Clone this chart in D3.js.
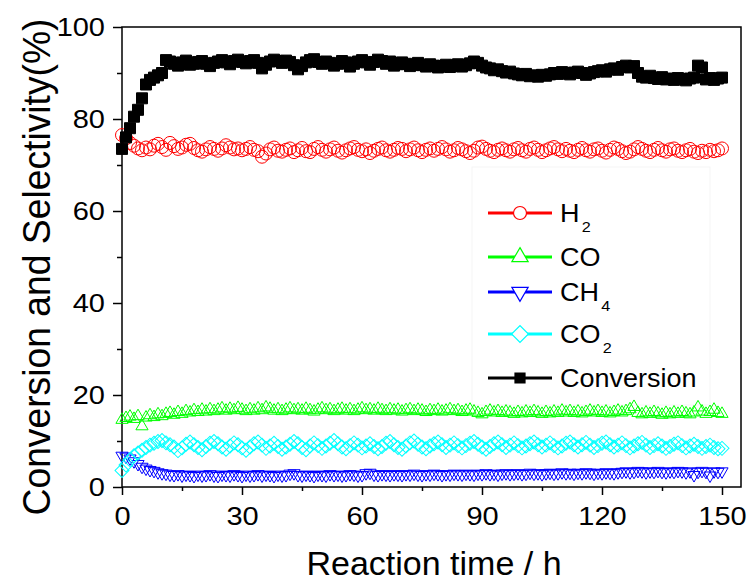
<!DOCTYPE html>
<html><head><meta charset="utf-8">
<script src="https://cdn.jsdelivr.net/npm/d3@7"></script>
<style>
html,body{margin:0;padding:0;background:#fff;}
svg{display:block;font-family:"Liberation Sans",Arial,sans-serif;}
</style></head>
<body>
<svg id="chart" width="749" height="583"></svg>
<script>
const hours = [0,1,2,3,4,5,6,7,8,9,10,11,12,13,14,15,16,17,18,19,20,21,22,23,24,25,26,27,28,29,30,31,32,33,34,35,36,37,38,39,40,41,42,43,44,45,46,47,48,49,50,51,52,53,54,55,56,57,58,59,60,61,62,63,64,65,66,67,68,69,70,71,72,73,74,75,76,77,78,79,80,81,82,83,84,85,86,87,88,89,90,91,92,93,94,95,96,97,98,99,100,101,102,103,104,105,106,107,108,109,110,111,112,113,114,115,116,117,118,119,120,121,122,123,124,125,126,127,128,129,130,131,132,133,134,135,136,137,138,139,140,141,142,143,144,145,146,147,148,149,150];

const h2 = [76.5,75.8,74.8,74.2,73.6,73.2,73.8,73.4,74.2,74.6,73.9,73.3,74.8,74.1,73.5,73.8,74.4,74.6,73.7,73.2,72.9,73.4,73.9,73.5,73.1,73.6,74.3,73.8,73.4,73.6,73.2,73.5,73.9,73.3,73.0,71.8,72.5,73.4,73.8,73.1,72.9,73.3,73.6,72.8,73.2,73.7,73.0,72.8,73.5,73.9,73.3,72.9,73.4,73.8,73.1,72.7,73.2,73.6,73.9,73.3,73.0,73.4,72.6,73.1,73.5,73.8,73.2,72.9,73.3,73.7,73.5,73.0,73.4,73.8,73.2,72.8,73.3,73.6,73.1,73.5,73.9,73.4,72.9,73.2,73.7,73.4,73.0,72.6,73.1,73.8,74.0,73.5,73.1,72.8,73.3,73.6,73.2,72.9,73.4,73.7,73.2,72.9,73.5,73.8,73.3,72.8,73.2,73.6,73.9,73.4,73.0,73.5,73.1,72.8,73.3,73.7,73.2,72.9,73.4,73.6,73.1,72.7,73.3,73.8,73.5,73.0,72.6,72.9,73.4,73.9,73.5,73.1,72.8,73.3,73.7,73.2,72.9,73.4,73.6,73.1,72.8,73.2,73.5,72.9,72.6,73.1,72.8,73.3,73.0,73.2,73.6];

const co = [14.6,15.0,15.3,14.8,15.4,13.2,15.1,15.6,15.2,15.8,15.4,15.9,16.1,15.7,16.3,15.9,16.5,16.2,16.7,16.3,16.8,16.4,16.9,16.5,16.8,17.1,16.6,17.0,16.7,17.2,16.8,16.5,16.9,16.6,17.1,16.7,17.3,17.0,16.6,16.9,16.5,16.8,17.1,16.7,16.9,16.6,17.0,16.7,16.4,16.8,17.1,16.7,16.9,16.5,16.8,17.0,16.6,16.9,16.5,16.8,17.1,16.7,16.9,16.6,17.0,16.7,16.5,16.9,16.6,16.8,16.4,16.7,16.9,16.5,16.8,16.6,16.3,16.7,16.5,16.8,16.4,16.6,16.9,16.5,16.7,16.3,16.6,16.8,16.4,16.1,15.8,16.3,16.6,16.2,16.5,16.1,16.4,16.2,15.9,16.3,16.0,16.4,16.1,16.5,16.2,15.9,16.3,16.0,16.4,16.1,16.6,16.2,16.5,16.1,16.4,16.0,16.3,16.6,16.2,16.5,16.1,16.4,16.0,16.3,16.6,16.2,16.5,16.9,17.4,16.1,15.8,16.2,15.9,16.3,16.0,15.7,16.1,15.8,16.2,15.9,16.3,16.0,15.8,16.2,17.3,16.4,15.9,16.3,16.8,16.1,15.9];

const ch4 = [6.8,6.6,6.2,5.6,5.0,4.4,4.0,3.7,3.5,3.2,3.0,2.9,2.7,2.6,2.8,2.5,2.7,2.6,2.4,2.7,2.5,2.6,2.8,2.5,2.4,2.7,2.6,2.5,2.8,2.6,2.4,2.7,2.5,2.6,2.8,2.5,2.7,2.6,2.4,2.7,2.5,2.6,2.9,3.0,2.6,2.5,2.7,2.6,2.4,2.7,2.6,2.5,2.8,2.6,2.7,2.5,2.6,2.8,2.7,2.5,2.6,3.0,3.1,2.7,2.6,2.8,2.7,2.6,2.8,2.7,2.6,2.8,2.7,2.9,2.7,2.6,2.8,2.7,2.9,2.8,2.6,2.8,2.7,2.9,2.8,2.7,2.9,2.8,2.7,2.9,2.8,3.0,2.8,2.9,2.7,2.9,3.0,2.8,2.9,3.0,2.8,2.9,3.1,2.9,3.0,2.8,3.0,3.1,2.9,3.0,3.2,3.0,3.1,2.9,3.1,3.0,3.2,3.1,2.9,3.1,3.0,3.2,3.1,3.0,3.2,3.3,3.4,3.2,3.3,3.5,3.4,3.2,3.4,3.3,3.5,3.3,3.2,3.4,3.3,3.5,3.4,3.2,3.4,2.6,3.3,3.5,3.3,2.5,3.4,3.3,3.4];

const co2 = [3.6,4.8,5.9,6.8,7.4,8.0,8.6,9.1,9.5,9.9,10.1,9.6,9.2,8.7,7.9,8.5,9.3,9.8,9.2,8.6,8.1,8.8,9.5,9.9,9.4,8.7,8.2,8.9,9.6,9.2,8.5,8.0,8.7,9.4,9.8,9.1,8.4,8.9,9.5,8.8,8.2,8.7,9.3,9.9,9.4,8.6,8.1,8.9,9.6,9.0,8.4,8.9,9.5,10.1,9.4,8.7,8.3,9.0,9.6,9.1,8.5,8.9,9.4,8.8,8.3,8.8,9.5,9.9,9.2,8.6,8.2,8.9,9.6,10.0,9.3,8.7,8.3,8.9,9.4,9.8,9.2,8.6,9.1,9.6,9.0,8.5,9.0,9.5,9.9,9.3,8.7,8.2,8.8,9.4,9.8,9.2,8.6,9.1,9.6,9.0,8.5,8.9,9.4,9.8,9.2,8.7,9.1,9.6,9.0,8.5,8.9,9.5,9.8,9.2,8.7,9.2,9.7,9.1,8.6,9.0,9.5,9.8,9.2,8.7,9.1,9.6,9.0,8.5,8.9,9.4,9.7,9.1,8.6,9.0,9.4,8.9,8.4,8.8,9.3,9.6,9.0,8.5,8.9,9.3,8.8,8.4,8.8,9.1,8.6,8.3,8.4];

const conversion = [73.5,76.0,78.0,80.5,82.0,84.5,87.5,88.5,89.0,89.5,90.0,92.8,92.5,92.0,91.6,92.3,92.7,91.8,92.0,92.4,92.6,92.0,91.5,92.2,92.5,92.8,92.3,91.9,92.6,92.9,92.4,92.1,92.6,92.8,92.2,91.0,91.8,92.5,92.9,92.6,92.2,92.7,92.4,91.7,90.8,91.5,92.3,92.8,93.0,92.4,92.0,92.5,92.2,91.6,92.0,92.6,92.3,91.4,92.0,92.5,92.8,92.3,91.8,92.4,92.9,92.6,92.0,92.5,91.6,91.9,92.3,92.0,91.5,91.8,92.2,91.7,91.4,91.9,91.6,91.2,91.5,91.8,91.3,91.6,91.9,91.4,91.7,92.1,92.5,92.2,91.6,91.2,91.0,90.6,90.8,90.4,90.1,90.3,89.9,89.7,89.5,89.8,89.3,89.5,89.2,89.6,89.4,89.7,90.0,89.8,90.2,90.0,89.7,90.1,90.3,90.0,89.6,89.9,90.2,90.4,90.6,90.3,90.8,91.0,90.7,91.3,91.6,91.2,91.5,90.0,89.2,89.0,89.4,88.9,88.7,89.1,88.6,88.8,88.5,88.9,88.7,88.4,88.8,89.0,91.6,91.2,88.6,88.9,88.5,88.8,89.0];

const xMajorTicks = [0,30,60,90,120,150];
const xMinorTicks = [15,45,75,105,135];
const yMajorTicks = [0,20,40,60,80,100];
const yMinorTicks = [10,30,50,70,90];
const seriesNames = ["H2","CO","CH4","CO2","Conversion"];
const seriesColors = ["#ff0000","#00ff00","#0000ff","#00ffff","#000000"];

const svg = d3.select("#chart");
const L = 122, R = 741, T = 27, B = 487;
const x = d3.scaleLinear().domain([0,154.75]).range([L,R]);
const y = d3.scaleLinear().domain([0,100]).range([B,T]);

const FONT = '"Liberation Sans",Arial,sans-serif';

// axes
const gxMinor = svg.append("g").attr("transform",`translate(0,${B})`)
  .call(d3.axisBottom(x).tickValues(xMinorTicks).tickSize(4).tickFormat(""));
const gx = svg.append("g").attr("transform",`translate(0,${B})`)
  .call(d3.axisBottom(x).tickValues(xMajorTicks).tickSize(8).tickFormat(d3.format("d")));
const gyMinor = svg.append("g").attr("transform",`translate(${L},0)`)
  .call(d3.axisLeft(y).tickValues(yMinorTicks).tickSize(5).tickFormat(""));
const gy = svg.append("g").attr("transform",`translate(${L},0)`)
  .call(d3.axisLeft(y).tickValues(yMajorTicks).tickSize(9).tickFormat(d3.format("d")));

[gxMinor,gx,gyMinor,gy].forEach(g=>{
  g.select(".domain").remove();
  g.selectAll(".tick line").attr("stroke","#000").attr("stroke-width",1.5);
});
gx.selectAll(".tick text").attr("font-family",FONT).attr("font-size",25).attr("fill","#000")
  .attr("y",20).attr("transform","scale(1.16,1)");
gy.selectAll(".tick text").attr("font-family",FONT).attr("font-size",25).attr("fill","#000")
  .attr("x",0).attr("dy","0.35em").attr("transform","translate(-17,0) scale(1.16,1)");

// frame
svg.append("rect").attr("x",L).attr("y",T).attr("width",R-L).attr("height",B-T)
  .attr("fill","none").attr("stroke","#000").attr("stroke-width",1.5);

// legend faint box
svg.append("rect").attr("x",472).attr("y",167).attr("width",238).attr("height",238)
  .attr("fill","none").attr("stroke","#f5f5f5").attr("stroke-width",1);

// symbols
const symCircle = d3.symbol().type(d3.symbolCircle).size(Math.PI*6.5*6.5);
const symTri = d3.symbol().type(d3.symbolTriangle).size(64);
const symTriLeg = d3.symbol().type(d3.symbolTriangle).size(115);
const symSq = d3.symbol().type(d3.symbolSquare).size(121);
const symDia = d3.symbol().type(d3.symbolSquare).size(98);
const symDiaLeg = d3.symbol().type(d3.symbolSquare).size(140);
const symSqLeg = d3.symbol().type(d3.symbolSquare).size(100);

const seriesDefs = [
  {vals:h2, path:symCircle(), rot:0, color:seriesColors[0], fill:"none"},
  {vals:co, path:symTri(), rot:0, color:seriesColors[1], fill:"none"},
  {vals:ch4, path:symTri(), rot:180, color:seriesColors[2], fill:"none"},
  {vals:co2, path:symDia(), rot:45, color:seriesColors[3], fill:"none"},
  {vals:conversion, path:symSq(), rot:0, color:seriesColors[4], fill:seriesColors[4]}
];

const plot = svg.append("g");
seriesDefs.forEach(s=>{
  plot.append("g").selectAll("path").data(hours.map((h,i)=>[h,s.vals[i]]))
    .join("path")
    .attr("d",s.path)
    .attr("transform",d=>`translate(${x(d[0])},${y(d[1])}) rotate(${s.rot})`)
    .attr("fill",s.fill).attr("stroke",s.color).attr("stroke-width",1);
});

// legend
const legRows = [213,257,292,334,378];
const legPaths = [
  {p:symCircle(), rot:0},
  {p:symTriLeg(), rot:0},
  {p:symTriLeg(), rot:180},
  {p:symDiaLeg(), rot:45},
  {p:symSqLeg(), rot:0}
];
const leg = svg.append("g");
seriesNames.forEach((name,i)=>{
  const yy = legRows[i];
  const c = seriesColors[i];
  leg.append("line").attr("x1",488).attr("x2",552).attr("y1",yy).attr("y2",yy)
    .attr("stroke",c).attr("stroke-width",3);
  leg.append("path").attr("d",legPaths[i].p)
    .attr("transform",`translate(520,${yy}) rotate(${legPaths[i].rot})`)
    .attr("fill", i===4 ? "#000" : "#fff").attr("stroke",c).attr("stroke-width",1.2);
  const t = leg.append("text").attr("x",0).attr("y",0)
    .attr("transform",`translate(560,${yy+9}) scale(1.08,1)`)
    .attr("font-family",FONT).attr("font-size",25).attr("fill","#000");
  const m = name.match(/^([A-Za-z]+?)(\d+)$/);
  if (m && name !== "Conversion") {
    t.append("tspan").text(m[1]);
    t.append("tspan").attr("font-size",15).attr("dx",2).attr("dy",10).text(m[2]);
  } else {
    t.text(name);
  }
});

// axis titles
svg.append("text").attr("x",434).attr("y",575).attr("text-anchor","middle")
  .attr("font-family",FONT).attr("font-size",34).attr("fill","#000")
  .text("Reaction time / h");
svg.append("text").attr("transform","translate(50,267) scale(1.12,1) rotate(-90)").attr("text-anchor","middle")
  .attr("font-family",FONT).attr("font-size",34).attr("fill","#000")
  .attr("textLength",497).attr("lengthAdjust","spacingAndGlyphs")
  .text("Conversion and Selectivity(%)");
</script>
</body></html>
